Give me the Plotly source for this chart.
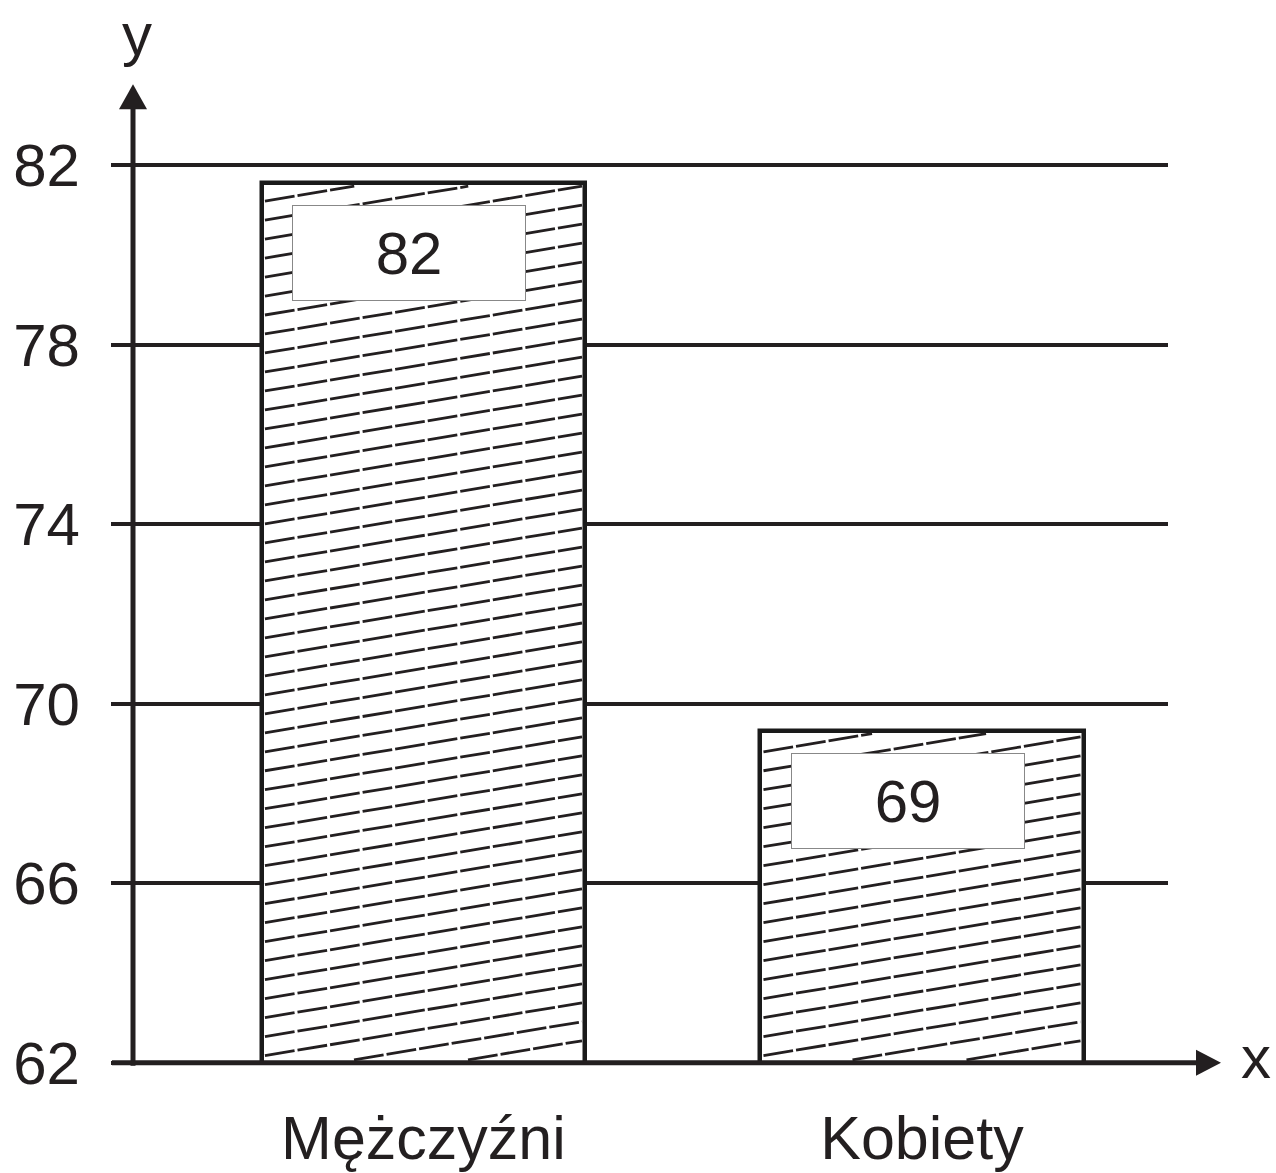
import plotly.graph_objects as go

# ---- data ----
categories = ["Mężczyźni", "Kobiety"]
bar_heights = [81.6, 69.4]          # heights as drawn in the picture
value_labels = ["82", "69"]          # labels printed in the boxes
y_ticks = [62, 66, 70, 74, 78, 82]

# ---- layout constants ----
W_FIG, H_FIG = 1276, 1173
AX_L, AX_R, AX_T, AX_B = 133, 1168, 165, 1063   # pixel positions of axis frame
X_RANGE = [-0.5827, 1.4935]
Y_MIN, Y_MAX = 62, 82
EPS = 0.05
Y_RANGE = [Y_MIN - EPS, Y_MAX + EPS]
BAR_W = 0.648
FONT = "Liberation Sans, Arial, sans-serif"

sy = (AX_B - AX_T) / (Y_MAX - Y_MIN)
M_L, M_R = AX_L, W_FIG - AX_R
M_T = AX_T - EPS * sy
M_B = (H_FIG - AX_B) - EPS * sy
PW = W_FIG - M_L - M_R
PH = H_FIG - M_T - M_B
sx = PW / (X_RANGE[1] - X_RANGE[0])

xs = list(range(len(categories)))

fig = go.Figure()
fig.add_trace(go.Bar(
    x=xs, y=bar_heights, width=BAR_W,
    marker=dict(color="white", line=dict(color="#1a1a1a", width=4.5)),
    hoverinfo="skip", showlegend=False,
))

# ---- hatch lines (shallow slanted lines inside each bar) ----
slope = (1 / 6) * sx / sy
gap = 19 / sy
inset_x = 3 / sx
inset_y = 3 / sy
hx, hy = [], []
for i, v in zip(xs, bar_heights):
    xl = i - BAR_W / 2 + inset_x
    xr = i + BAR_W / 2 - inset_x
    ylo = Y_MIN + inset_y
    yhi = v - inset_y
    w = xr - xl
    b = ylo - slope * w
    while b < yhi:
        x_lo = max(xl, xl + (ylo - b) / slope)
        x_hi = min(xr, xl + (yhi - b) / slope)
        if x_lo < x_hi:
            hx += [x_lo, x_hi, None]
            hy += [b + slope * (x_lo - xl), b + slope * (x_hi - xl), None]
        b += gap
fig.add_trace(go.Scatter(
    x=hx, y=hy, mode="lines",
    line=dict(color="#231f20", width=2.8, dash="30px,3px"),
    hoverinfo="skip", showlegend=False,
))

# ---- value label boxes ----
for i, v, t in zip(xs, bar_heights, value_labels):
    fig.add_annotation(
        x=i, y=v, xref="x", yref="y", yanchor="top", xanchor="center",
        xshift=-14, yshift=-22, text=t, showarrow=False,
        width=232, height=94, bgcolor="white", bordercolor="#888",
        borderwidth=1, borderpad=0,
        font=dict(family=FONT, size=60, color="#231f20"),
    )

# ---- axes arrows and labels ----
def px_x(p):
    return (p - M_L) / PW

def px_y(p):
    return (H_FIG - M_B - p) / PH

fig.add_shape(type="line", xref="paper", yref="paper",
              x0=px_x(AX_L), x1=px_x(AX_L), y0=px_y(1066), y1=px_y(105),
              line=dict(color="#231f20", width=5))
fig.add_shape(type="path", xref="paper", yref="paper",
              path=f"M {px_x(119)},{px_y(109)} L {px_x(133)},{px_y(84)} L {px_x(147)},{px_y(109)} Z",
              fillcolor="#231f20", line=dict(width=0))
fig.add_shape(type="line", xref="paper", yref="paper",
              x0=px_x(112), x1=px_x(1200), y0=px_y(AX_B), y1=px_y(AX_B),
              line=dict(color="#231f20", width=5))
fig.add_shape(type="path", xref="paper", yref="paper",
              path=f"M {px_x(1196)},{px_y(1050)} L {px_x(1221)},{px_y(1063)} L {px_x(1196)},{px_y(1076)} Z",
              fillcolor="#231f20", line=dict(width=0))

fig.add_annotation(x=px_x(137), y=px_y(34), xref="paper", yref="paper",
                   text="y", showarrow=False, xanchor="center", yanchor="middle",
                   font=dict(family=FONT, size=60, color="#231f20"))
fig.add_annotation(x=px_x(1256), y=px_y(1058), xref="paper", yref="paper",
                   text="x", showarrow=False, xanchor="center", yanchor="middle",
                   font=dict(family=FONT, size=60, color="#231f20"))

fig.update_layout(
    width=W_FIG, height=H_FIG,
    margin=dict(l=M_L, r=M_R, t=M_T, b=M_B, autoexpand=False),
    paper_bgcolor="white", plot_bgcolor="white",
    showlegend=False, bargap=0,
    font=dict(family=FONT, color="#231f20"),
    xaxis=dict(
        range=X_RANGE, tickmode="array", tickvals=xs, ticktext=categories,
        showgrid=False, zeroline=False, showline=False, ticks="",
        tickfont=dict(family=FONT, size=61, color="#231f20"),
        ticklabelstandoff=32, fixedrange=True, automargin=False,
    ),
    yaxis=dict(
        range=Y_RANGE, tickmode="array", tickvals=y_ticks,
        showgrid=True, gridcolor="#231f20", gridwidth=4,
        zeroline=False, showline=False,
        ticks="outside", ticklen=21, tickwidth=4, tickcolor="#231f20",
        tickfont=dict(family=FONT, size=60, color="#231f20"),
        ticklabelstandoff=19, fixedrange=True, automargin=False,
    ),
)

fig.write_html("out.html", config={"displayModeBar": False},
               post_script="document.body.style.margin='0px';document.body.style.overflow='hidden';")
